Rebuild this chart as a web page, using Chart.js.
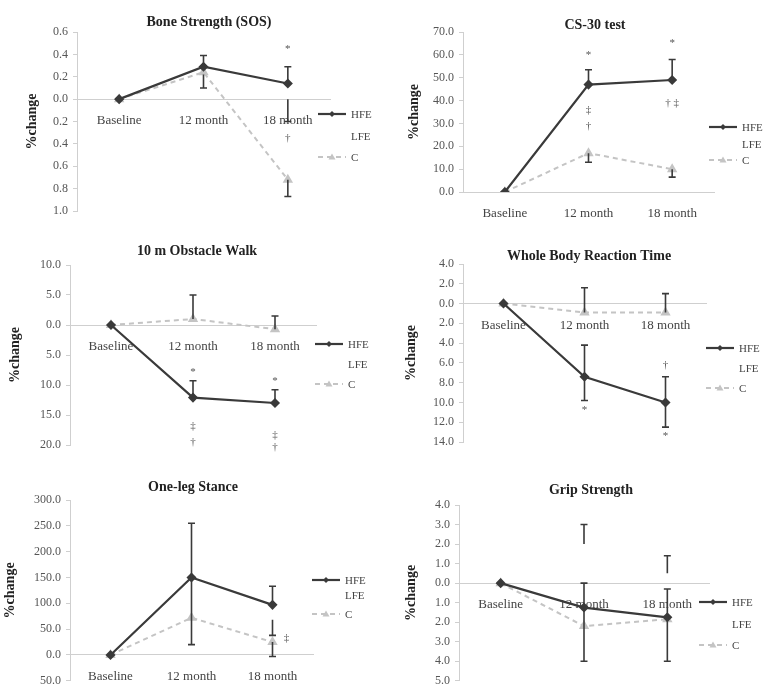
<!DOCTYPE html>
<html>
<head>
<meta charset="utf-8">
<script src="https://cdn.jsdelivr.net/npm/chart.js@4.4.1/dist/chart.umd.min.js"></script>
<style>
  body { margin: 0; background: #fff; }
  #grid { position: relative; width: 768px; height: 693px; overflow: hidden; }
  .panel { position: absolute; width: 384px; height: 231px; }
  canvas { display: block; }
</style>
</head>
<body>
<div id="grid">
  <div class="panel" style="left:0;top:0"><canvas id="c1" width="384" height="231"></canvas></div>
  <div class="panel" style="left:384px;top:0"><canvas id="c2" width="384" height="231"></canvas></div>
  <div class="panel" style="left:0;top:231px"><canvas id="c3" width="384" height="231"></canvas></div>
  <div class="panel" style="left:384px;top:231px"><canvas id="c4" width="384" height="231"></canvas></div>
  <div class="panel" style="left:0;top:462px"><canvas id="c5" width="384" height="231"></canvas></div>
  <div class="panel" style="left:384px;top:462px"><canvas id="c6" width="384" height="231"></canvas></div>
</div>
<script>
/* ================= DATA ================= */
const months = ["Baseline", "12 month", "18 month"];
const seriesNames = ["HFE", "LFE", "C"];

// bars: [month index, from, to] -> cap drawn at "to"
// marks: [symbol, month index, value, x shift]
const boneHFE = [0, 0.29, 0.14];
const boneC = [0, 0.24, -0.72];
const boneTicks = [0.6, 0.4, 0.2, 0.0, -0.2, -0.4, -0.6, -0.8, -1.0];
const boneBars = [[1, 0.29, 0.39], [1, 0.22, 0.10], [2, 0.14, 0.29], [2, 0.0, -0.2], [2, -0.72, -0.87]];
const boneMarks = [["*", 2, 0.45, 0], ["†", 2, -0.35, 0]];

const csHFE = [0, 47, 49];
const csC = [0, 17, 10];
const csTicks = [70, 60, 50, 40, 30, 20, 10, 0];
const csBars = [[1, 47, 53.5], [2, 49, 58], [1, 17, 13], [2, 10, 6.5]];
const csMarks = [["*", 1, 60, 0], ["*", 2, 65, 0], ["‡", 1, 36, 0], ["†", 1, 29, 0], ["† ‡", 2, 39, 0]];

const walkHFE = [0, -12.1, -13.0];
const walkC = [0, 1.0, -0.7];
const walkTicks = [10, 5, 0, -5, -10, -15, -20];
const walkBars = [[1, -12.1, -9.3], [2, -13.0, -10.8], [1, 1.0, 5.0], [2, -0.7, 1.5]];
const walkMarks = [["*", 1, -7.9, 0], ["‡", 1, -16.8, 0], ["†", 1, -19.5, 0],
                   ["*", 2, -9.3, 0], ["‡", 2, -18.3, 0], ["†", 2, -20.4, 0]];

const reactHFE = [0, -7.4, -10.0];
const reactC = [0, -0.9, -0.9];
const reactTicks = [4, 2, 0, -2, -4, -6, -8, -10, -12, -14];
const reactBars = [[1, -7.4, -4.2], [1, -7.4, -9.8], [2, -10.0, -7.4], [2, -10.0, -12.5], [1, -0.9, 1.6], [2, -0.9, 1.0]];
const reactMarks = [["*", 1, -10.8, 0], ["*", 2, -13.4, 0], ["†", 2, -6.2, 0]];

const stanceHFE = [0, 150, 97];
const stanceC = [0, 72, 25];
const stanceTicks = [300, 250, 200, 150, 100, 50, 0, -50];
const stanceBars = [[1, 150, 255], [1, 150, 20], [2, 97, 133], [2, 68, 38], [2, 25, -3]];
const stanceMarks = [["‡", 2, 32, 14]];

const gripHFE = [0, -1.25, -1.75];
const gripC = [0, -2.2, -1.85];
const gripTicks = [4, 3, 2, 1, 0, -1, -2, -3, -4, -5];
const gripBars = [[1, 2.0, 3.0], [1, -1.25, 0], [1, -1.25, -4], [2, 0.5, 1.4], [2, -1.75, -0.3], [2, -1.75, -4]];
const gripMarks = [];

/* ================= PANELS ================= */
const panels = [
  { id: "c1", title: "Bone Strength (SOS)", hfe: boneHFE, c: boneC, ticks: boneTicks, bars: boneBars, marks: boneMarks,
    pad: { top: 32, right: 54, bottom: 20 }, yw: 77, tx: 209, ty: 22, ax: 25, lg: { x: 318, y: [114, 136, 157] } },
  { id: "c2", title: "CS-30 test", hfe: csHFE, c: csC, ticks: csTicks, bars: csBars, marks: csMarks,
    pad: { top: 32, right: 54, bottom: 39 }, yw: 79, tx: 211, ty: 25, ax: 23, lg: { x: 325, y: [127, 144, 160] } },
  { id: "c3", title: "10 m Obstacle Walk", hfe: walkHFE, c: walkC, ticks: walkTicks, bars: walkBars, marks: walkMarks,
    pad: { top: 34, right: 68, bottom: 17 }, yw: 70, tx: 197, ty: 20, ax: 8, lg: { x: 315, y: [113, 133, 153] } },
  { id: "c4", title: "Whole Body Reaction Time", hfe: reactHFE, c: reactC, ticks: reactTicks, bars: reactBars, marks: reactMarks,
    pad: { top: 33, right: 62, bottom: 20 }, yw: 79, tx: 205, ty: 25, ax: 20, lg: { x: 322, y: [117, 137, 157] } },
  { id: "c5", title: "One-leg Stance", hfe: stanceHFE, c: stanceC, ticks: stanceTicks, bars: stanceBars, marks: stanceMarks,
    pad: { top: 38, right: 71, bottom: 11 }, yw: 70, tx: 193, ty: 25, ax: 3, lg: { x: 312, y: [118, 133, 152] } },
  { id: "c6", title: "Grip Strength", hfe: gripHFE, c: gripC, ticks: gripTicks, bars: gripBars, marks: gripMarks,
    pad: { top: 43, right: 59, bottom: 6 }, yw: 75, tx: 207, ty: 28, ax: 20, lg: { x: 315, y: [140, 162, 183] } }
];

const SERIF = "'Liberation Serif', 'DejaVu Serif', serif";
const DARK = "#3a3a3a";
const LIGHT = "#c4c4c4";

/* ================= PLUGINS ================= */
const extras = {
  id: "extras",
  afterDatasetsDraw(chart, args, opts) {
    const p = opts.panel;
    const ctx = chart.ctx;
    const xs = chart.scales.x, ys = chart.scales.y;

    // error bars
    ctx.save();
    ctx.strokeStyle = DARK;
    ctx.lineWidth = 1.6;
    p.bars.forEach(([i, a, b]) => {
      const x = xs.getPixelForValue(i);
      const ya = ys.getPixelForValue(a), yb = ys.getPixelForValue(b);
      ctx.beginPath();
      ctx.moveTo(x, ya); ctx.lineTo(x, yb);
      ctx.moveTo(x - 3.5, yb); ctx.lineTo(x + 3.5, yb);
      ctx.stroke();
    });

    // significance marks
    ctx.fillStyle = "#555";
    ctx.font = "11px " + SERIF;
    ctx.textAlign = "center";
    ctx.textBaseline = "middle";
    p.marks.forEach(([s, i, v, dx]) => {
      ctx.fillText(s, xs.getPixelForValue(i) + dx, ys.getPixelForValue(v));
    });
    ctx.restore();
  },
  afterDraw(chart, args, opts) {
    const p = opts.panel;
    const ctx = chart.ctx;
    ctx.save();

    // title
    ctx.fillStyle = "#222";
    ctx.font = "bold 14px " + SERIF;
    ctx.textAlign = "center";
    ctx.textBaseline = "middle";
    ctx.fillText(p.title, p.tx, p.ty);

    // legend
    ctx.font = "11px " + SERIF;
    ctx.textAlign = "left";
    chart.data.datasets.forEach((ds, k) => {
      const y = p.lg.y[k], x0 = p.lg.x, x1 = p.lg.x + 28;
      ctx.strokeStyle = ds.borderColor;
      ctx.lineWidth = ds.borderWidth;
      ctx.setLineDash(ds.borderDash || []);
      ctx.beginPath(); ctx.moveTo(x0, y); ctx.lineTo(x1, y); ctx.stroke();
      ctx.setLineDash([]);
      ctx.fillStyle = ds.pointBackgroundColor;
      const mx = (x0 + x1) / 2;
      ctx.beginPath();
      if (ds.pointStyle === "triangle") {
        ctx.moveTo(mx, y - 3.5); ctx.lineTo(mx + 3.5, y + 2.5); ctx.lineTo(mx - 3.5, y + 2.5);
      } else {
        ctx.moveTo(mx, y - 3); ctx.lineTo(mx + 3, y); ctx.lineTo(mx, y + 3); ctx.lineTo(mx - 3, y);
      }
      ctx.closePath(); ctx.fill();
      ctx.fillStyle = "#444";
      ctx.fillText(ds.label, x1 + 5, y + 1);
    });
    ctx.restore();
  }
};

/* ================= CHARTS ================= */
panels.forEach(p => {
  const ymin = Math.min(...p.ticks), ymax = Math.max(...p.ticks);
  new Chart(document.getElementById(p.id), {
    type: "line",
    data: {
      labels: months,
      datasets: [
        { label: seriesNames[0], data: p.hfe, borderColor: DARK, borderWidth: 2.2,
          pointStyle: "rectRot", pointRadius: 3.5, pointBackgroundColor: DARK, pointBorderColor: DARK },
        { label: seriesNames[1], data: [], borderColor: "rgba(0,0,0,0)", borderWidth: 2,
          pointStyle: "circle", pointRadius: 0, pointBackgroundColor: "rgba(0,0,0,0)" },
        { label: seriesNames[2], data: p.c, borderColor: LIGHT, borderWidth: 2, borderDash: [5, 4],
          pointStyle: "triangle", pointRadius: 4, pointBackgroundColor: LIGHT, pointBorderColor: LIGHT }
      ]
    },
    options: {
      responsive: false,
      animation: false,
      layout: { padding: { left: 0, top: p.pad.top, right: p.pad.right, bottom: p.pad.bottom } },
      plugins: {
        legend: { display: false },
        tooltip: { enabled: false },
        extras: { panel: p }
      },
      scales: {
        x: {
          type: "category",
          offset: true,
          position: { y: 0 },
          grid: { display: false, drawTicks: false },
          border: { color: "#cfcfcf", width: 1 },
          ticks: { color: "#444", font: { family: SERIF, size: 13 }, padding: 14, maxRotation: 0, autoSkip: false }
        },
        y: {
          min: ymin,
          max: ymax,
          afterBuildTicks: s => { s.ticks = p.ticks.map(v => ({ value: v })); },
          afterFit: s => { s.width = p.yw; },
          grid: { drawOnChartArea: false, tickLength: 4, color: "#cfcfcf" },
          border: { color: "#cfcfcf", width: 1 },
          ticks: {
            color: "#555",
            font: { family: SERIF, size: 12 },
            padding: 5,
            callback: v => Math.abs(v).toFixed(1)
          },
          title: {
            display: true,
            text: "%change",
            color: "#222",
            font: { family: SERIF, size: 14, weight: "bold" },
            padding: { top: p.ax - 1, bottom: 0 }
          }
        }
      }
    },
    plugins: [extras]
  });
});
</script>
</body>
</html>
